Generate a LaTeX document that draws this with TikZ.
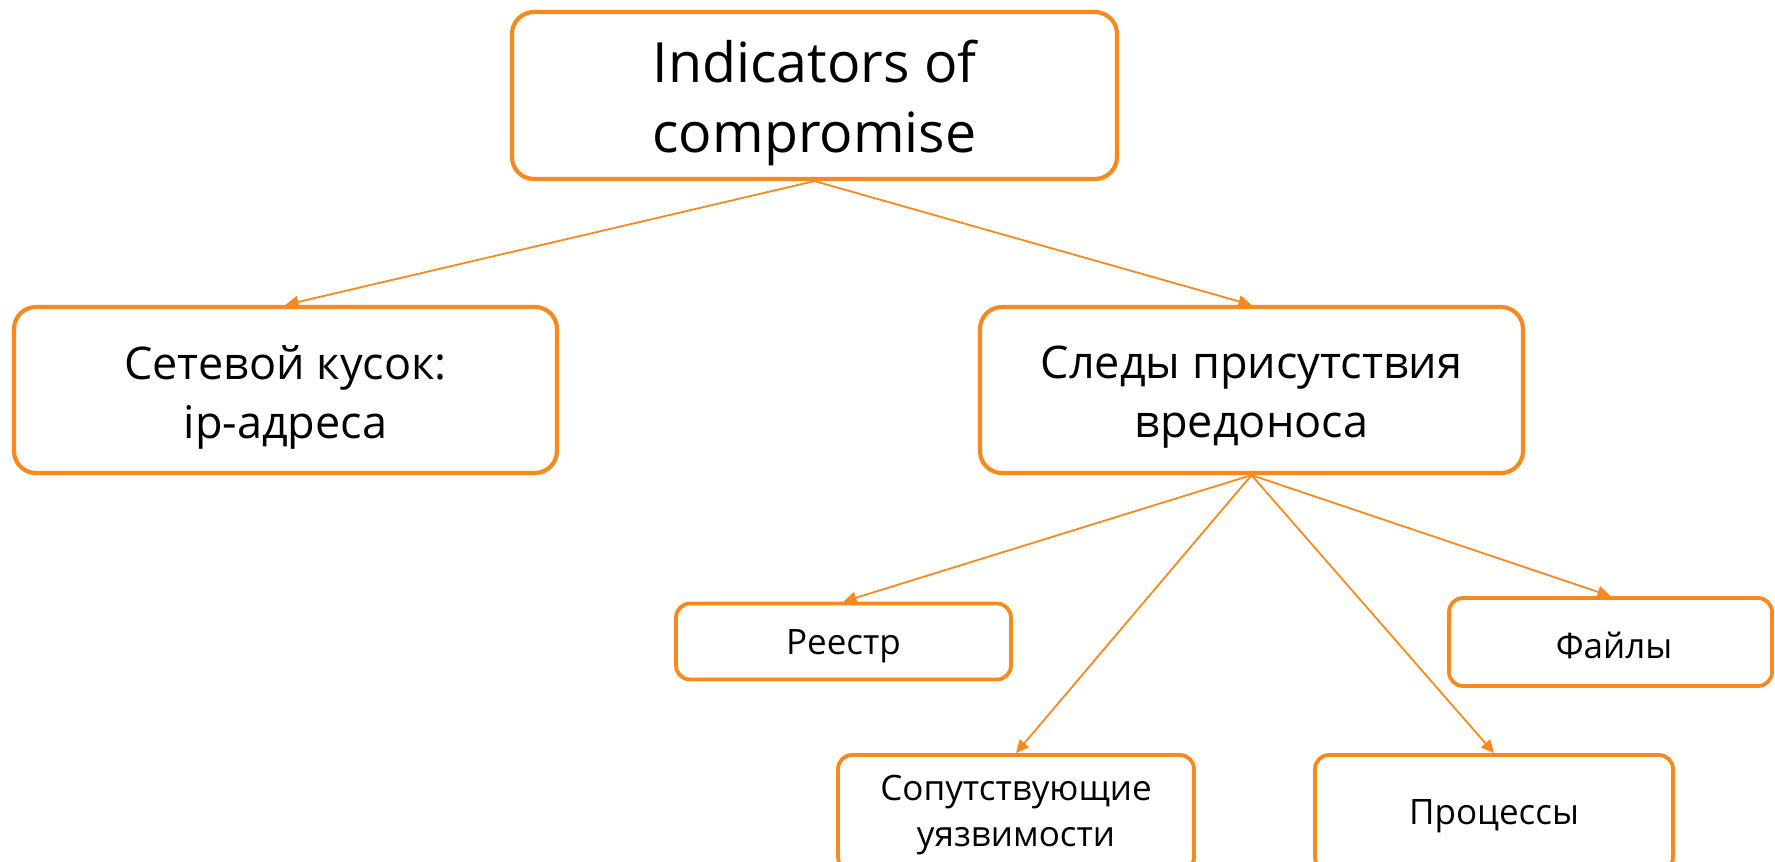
\documentclass[tikz,border=0pt]{standalone}
\usepackage{fontspec}
\setmainfont{Open Sans}
\usetikzlibrary{arrows.meta}
\definecolor{ioc}{RGB}{246,138,32}
\tikzset{
  box/.style={draw=ioc, line width=4.2pt, rounded corners=22pt, fill=white, inner sep=0pt},
  smallbox/.style={box, line width=3.8pt, rounded corners=14pt},
  txt/.style={align=center, inner sep=0pt, text=black},
  bigtxt/.style={txt, font=\fontsize{55.5}{70}\selectfont},
  midtxt/.style={txt, font=\fontsize{45}{59}\selectfont},
  smalltxt/.style={txt, font=\fontsize{35}{46}\selectfont},
  link/.style={draw=ioc, line width=1.8pt, -{Triangle[length=13pt,width=12pt]}}
}
\begin{document}
\begin{tikzpicture}[x=1pt,y=-1pt]
\useasboundingbox (0,0) rectangle (1775,862);
\node[box, minimum width=605pt, minimum height=167pt] (ioc) at (814.5,95.5) {};
\node[bigtxt] (ioc-t) at (814.5,103) {Indicators of\\compromise};
\node[box, minimum width=543pt, minimum height=166pt] (net) at (285.5,390) {};
\node[midtxt] (net-t) at (285.5,397) {Сетевой кусок:\\ip-адреса};
\node[box, minimum width=543pt, minimum height=166pt] (mal) at (1251.5,390) {};
\node[midtxt] (mal-t) at (1251.5,397) {Следы присутствия\\вредоноса};
\node[smallbox, minimum width=335pt, minimum height=76pt] (reg) at (843.5,641.5) {};
\node[smalltxt] (reg-t) at (843.5,646) {Реестр};
\node[smallbox, minimum width=323pt, minimum height=88pt] (fil) at (1610.5,642) {};
\node[smalltxt] (fil-t) at (1614,645) {Файлы};
\node[smallbox, minimum width=356pt, minimum height=116pt] (vul) at (1016,813) {};
\node[smalltxt] (vul-t) at (1016,815) {Сопутствующие\\уязвимости};
\node[smallbox, minimum width=358pt, minimum height=116pt] (pro) at (1494,813) {};
\node[smalltxt] (pro-t) at (1494,816) {Процессы};
\draw[link] (ioc.south) -- (net.north);
\draw[link] (ioc.south) -- (mal.north);
\draw[link] (mal.south) -- (reg.north);
\draw[link] (mal.south) -- (vul.north);
\draw[link] (mal.south) -- (pro.north);
\draw[link] (mal.south) -- (fil.north);
\end{tikzpicture}
\end{document}
